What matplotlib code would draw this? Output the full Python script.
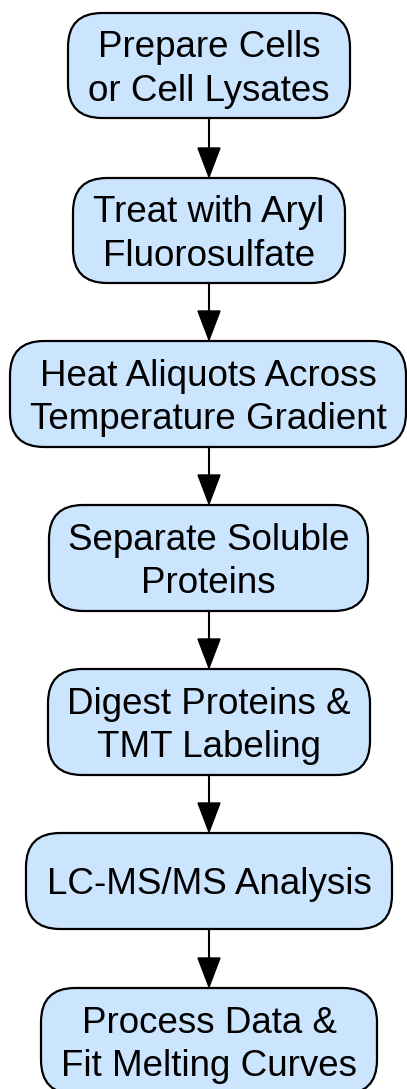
import matplotlib.pyplot as plt
from matplotlib.patches import FancyBboxPatch

# step labels
steps = [
    "Prepare Cells\nor Cell Lysates",
    "Treat with Aryl\nFluorosulfate",
    "Heat Aliquots Across\nTemperature Gradient",
    "Separate Soluble\nProteins",
    "Digest Proteins &\nTMT Labeling",
    "LC-MS/MS Analysis",
    "Process Data &\nFit Melting Curves",
]

# layout in pixels (left, right, top, bottom)
box_left = [68, 73, 10, 49, 48, 26, 41]
box_right = [350, 345, 406, 368, 370, 392, 377]
box_top = [13, 178, 341, 505, 669, 833, 988]
box_bottom = [118, 283, 447, 611, 775, 929, 1094]

W, H = 407, 1089
fig = plt.figure(figsize=(W / 100, H / 100), dpi=100)
ax = fig.add_axes([0, 0, 1, 1])
ax.set_xlim(0, W)
ax.set_ylim(H, 0)
ax.axis('off')

cx = 209
for i, label in enumerate(steps):
    l, r, t, b = box_left[i], box_right[i], box_top[i], box_bottom[i]
    box = FancyBboxPatch((l, t), r - l, b - t,
                         boxstyle="round,pad=0,rounding_size=34",
                         facecolor='#cce5ff', edgecolor='black', linewidth=1.6)
    ax.add_patch(box)
    ax.text((l + r) / 2, (t + b) / 2 + 4, label, ha='center', va='center',
            fontsize=26.5, family='Liberation Sans', linespacing=1.32)

# arrows between steps
for i in range(len(steps) - 1):
    y0 = box_bottom[i]
    y1 = box_top[i + 1]
    ax.plot([cx, cx], [y0, y1 - 28], color='black', linewidth=1.5)
    ax.fill([cx - 11, cx + 11, cx], [y1 - 30, y1 - 30, y1 - 1], color='black')

fig.savefig('out.png', dpi=100)
